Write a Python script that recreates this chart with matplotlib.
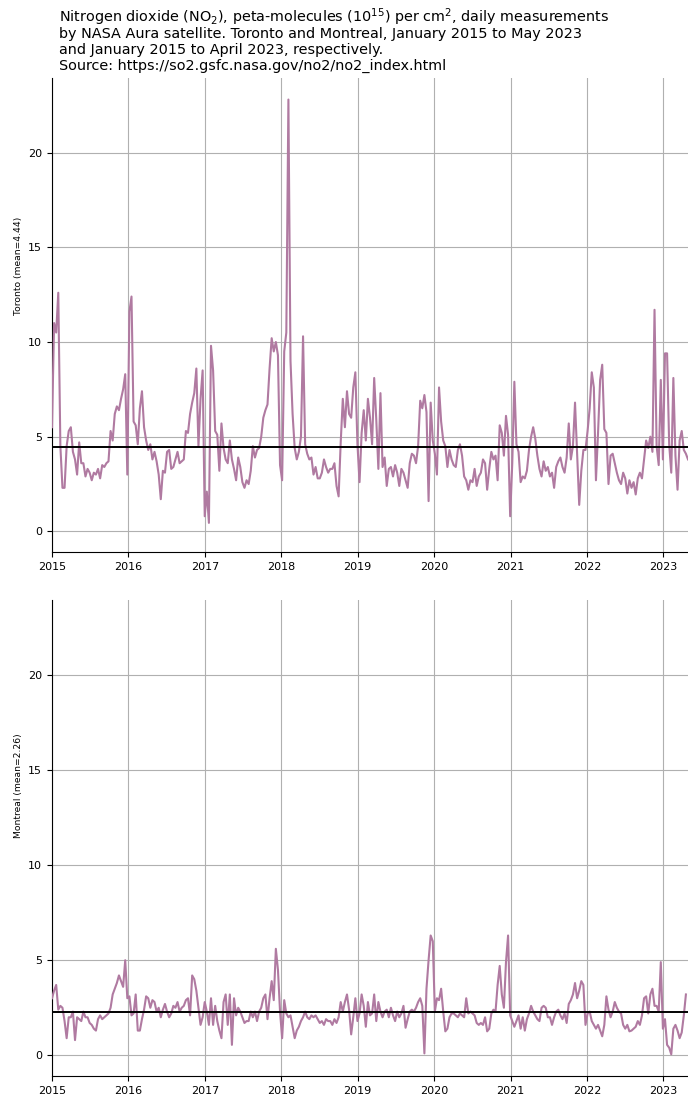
import matplotlib
matplotlib.use("Agg")
import matplotlib.pyplot as plt
import matplotlib.dates as mdates
import pandas as pd

START = "2015-01-01"
STEP = "10D"

toronto_no2 = [
    # 2015
    5.5, 11.0, 10.5, 12.6, 4.5, 2.3, 2.3, 4.5, 5.3, 5.5, 4.2, 3.8, 3.0, 4.7, 3.6, 3.6, 2.9, 3.3, 3.1,
    2.7, 3.1, 3.0, 3.3, 2.8, 3.5, 3.4, 3.6, 3.7, 5.3, 4.8, 6.2, 6.6, 6.4, 7.0, 7.5, 8.3, 3.0,
    # 2016
    11.6, 12.4, 5.8, 5.6, 4.6, 6.5, 7.4, 5.5, 4.8, 4.3, 4.6, 3.8, 4.2, 3.7, 3.0, 1.7, 3.2, 3.1,
    4.2, 4.3, 3.3, 3.4, 3.8, 4.2, 3.6, 3.7, 3.8, 5.3, 5.2, 6.2, 6.8, 7.3, 8.6, 4.5, 7.0, 8.5,
    # 2017
    0.8, 2.1, 0.45, 9.8, 8.5, 5.3, 5.1, 3.2, 5.7, 4.4, 3.8, 3.6, 4.8, 3.8, 3.3, 2.7, 3.9, 3.4, 2.6,
    2.3, 2.7, 2.5, 3.2, 4.5, 3.9, 4.3, 4.4, 5.0, 6.0, 6.4, 6.7, 8.6, 10.2, 9.5, 10.0, 9.3, 3.5,
    # 2018
    2.7, 9.5, 10.5, 22.8, 9.0, 6.2, 4.4, 3.8, 4.2, 5.0, 10.3, 4.6, 4.1, 3.8, 3.9, 3.0, 3.4, 2.8,
    2.8, 3.1, 3.8, 3.4, 3.1, 3.3, 3.3, 3.6, 2.4, 1.85, 4.7, 7.0, 5.5, 7.4, 6.2, 6.0, 7.6, 8.4,
    # 2019
    4.6, 2.6, 5.2, 6.4, 4.8, 7.0, 6.0, 4.6, 8.1, 5.9, 3.3, 7.3, 3.4, 3.9, 2.4, 3.3, 3.4, 2.9, 3.5,
    3.1, 2.4, 3.3, 3.1, 2.7, 2.3, 3.6, 4.1, 4.0, 3.6, 4.5, 6.9, 6.5, 7.2, 6.3, 1.6, 6.8, 4.8,
    # 2020
    4.1, 3.0, 7.6, 5.8, 4.8, 4.5, 3.4, 4.3, 3.8, 3.5, 3.4, 4.3, 4.6, 4.0, 2.9, 2.7, 2.2, 2.7,
    2.6, 3.3, 2.4, 2.9, 3.1, 3.8, 3.6, 2.2, 3.3, 4.2, 3.8, 4.0, 2.7, 5.6, 5.2, 4.0, 6.1, 5.1,
    # 2021
    0.8, 3.6, 7.9, 4.6, 4.2, 2.6, 2.9, 2.8, 3.2, 4.3, 5.0, 5.5, 4.9, 4.0, 3.3, 2.9, 3.7, 3.2, 3.4,
    2.9, 3.1, 2.3, 3.4, 3.7, 3.9, 3.4, 3.1, 3.9, 5.7, 3.8, 4.5, 6.8, 4.1, 1.4, 3.2, 4.3, 4.3,
    # 2022 - 2023
    5.3, 6.5, 8.4, 7.6, 2.7, 5.2, 8.0, 8.8, 5.4, 5.2, 2.5, 4.0, 4.1, 3.6, 3.1, 2.7, 2.5, 3.1,
    2.8, 2.0, 2.7, 2.3, 2.6, 1.95, 2.8, 3.1, 2.8, 3.8, 4.8, 4.4, 5.0, 4.2, 11.7, 4.5, 3.5, 8.0,
    3.8, 9.4, 9.4, 4.6, 3.1, 8.1, 4.0, 2.2, 4.8, 5.3, 4.3, 4.1, 3.8,
]

montreal_no2 = [
    # 2015
    3.0, 3.4, 3.7, 2.4, 2.6, 2.5, 1.8, 0.9, 2.0, 2.0, 2.3, 0.8, 2.0, 1.9, 1.8, 2.3, 2.0, 2.0, 1.7,
    1.6, 1.4, 1.3, 1.9, 2.1, 1.9, 2.0, 2.1, 2.2, 2.5, 3.2, 3.5, 3.8, 4.2, 3.9, 3.6, 5.0, 3.0,
    # 2016
    3.1, 2.1, 2.2, 3.2, 1.3, 1.3, 1.9, 2.4, 3.1, 3.0, 2.5, 2.9, 2.8, 2.3, 2.5, 2.0, 2.4, 2.7,
    2.3, 2.0, 2.2, 2.6, 2.5, 2.8, 2.3, 2.5, 2.6, 2.9, 3.0, 2.1, 4.2, 4.0, 3.4, 2.5, 1.6, 2.0,
    # 2017
    2.8, 2.3, 1.6, 3.0, 1.6, 2.6, 1.8, 1.3, 0.9, 2.8, 3.2, 1.6, 3.2, 0.55, 3.0, 2.1, 2.5, 2.3, 2.0,
    1.7, 1.8, 1.8, 2.3, 2.0, 2.3, 1.8, 2.3, 2.5, 3.0, 3.2, 1.9, 3.0, 3.9, 2.9, 5.6, 4.5, 2.3,
    # 2018
    0.9, 2.9, 2.2, 2.0, 2.1, 1.5, 0.9, 1.3, 1.5, 1.8, 2.0, 2.3, 2.0, 1.9, 2.1, 2.0, 2.1, 1.9,
    1.7, 1.8, 1.6, 1.9, 1.8, 1.8, 1.6, 1.9, 1.7, 2.0, 2.8, 2.3, 2.8, 3.2, 2.4, 1.1, 2.0, 3.0,
    # 2019
    1.8, 2.2, 3.2, 2.6, 1.5, 2.8, 2.1, 2.2, 3.2, 1.8, 2.8, 2.3, 2.0, 2.3, 2.4, 2.0, 2.5, 2.1, 1.8,
    2.3, 2.0, 2.2, 2.6, 1.45, 1.9, 2.3, 2.4, 2.3, 2.5, 2.8, 3.0, 2.6, 0.1, 3.5, 5.0, 6.3, 6.0,
    # 2020
    2.3, 3.0, 2.9, 3.5, 2.3, 1.26, 1.4, 2.0, 2.2, 2.2, 2.1, 2.0, 2.2, 2.1, 2.0, 3.0, 2.2, 2.3,
    2.2, 2.1, 1.7, 1.6, 1.7, 1.6, 2.0, 1.26, 1.4, 2.2, 2.4, 2.3, 3.7, 4.7, 3.2, 2.5, 4.9, 6.3,
    # 2021
    2.1, 1.8, 1.5, 1.8, 2.1, 1.4, 2.0, 1.3, 1.9, 2.2, 2.6, 2.3, 2.1, 1.9, 1.8, 2.5, 2.6, 2.5, 2.0,
    2.0, 1.6, 2.0, 2.3, 2.4, 2.1, 1.9, 2.2, 1.7, 2.7, 2.9, 3.2, 3.8, 3.0, 3.4, 3.9, 3.7, 1.6,
    # 2022 - 2023
    2.2, 2.3, 1.8, 1.6, 1.4, 1.6, 1.3, 1.0, 1.6, 3.1, 2.4, 2.0, 2.3, 2.8, 2.5, 2.3, 2.2, 1.6,
    1.4, 1.6, 1.26, 1.3, 1.4, 1.5, 1.8, 1.6, 2.1, 3.0, 3.1, 2.2, 3.2, 3.5, 2.6, 2.6, 2.3, 4.9,
    1.4, 1.9, 0.55, 0.4, 0.05, 1.4, 1.6, 1.3, 0.9, 1.2, 2.1, 3.2,
]

cities = ["Toronto", "Montreal"]
means = [4.44, 2.26]

title_lines = [
    "Nitrogen dioxide (NO$_2$), peta-molecules (10$^{15}$) per cm$^2$, daily measurements",
    "by NASA Aura satellite. Toronto and Montreal, January 2015 to May 2023",
    "and January 2015 to April 2023, respectively.",
    "Source: https://so2.gsfc.nasa.gov/no2/no2_index.html",
]

# ---- figure ----
LINE_COLOR = "#b07aa1"
W, H = 688, 1099
fig = plt.figure(figsize=(W / 100, H / 100), dpi=100)

def px_axes(l, t, r, b):
    return fig.add_axes([l / W, 1 - b / H, (r - l) / W, (b - t) / H])

ax1 = px_axes(52, 78, 688, 552)
ax2 = px_axes(52, 600, 688, 1076)
axes = [ax1, ax2]
series = [toronto_no2, montreal_no2]

all_dates = []
for ax, city, vals, m in zip(axes, cities, series, means):
    dates = pd.date_range(START, periods=len(vals), freq=STEP)
    all_dates.append(dates)
    ax.plot(dates, vals, color=LINE_COLOR, lw=1.5, zorder=3)
    ax.axhline(m, color="black", lw=1.4, zorder=4)
    ax.set_ylabel(f"{city} (mean={m:.2f})", fontsize=6.6, ha="left")
    ax.grid(True, color="#b0b0b0", lw=0.8, zorder=0)
    ax.set_axisbelow(True)
    for s in ("top", "right"):
        ax.spines[s].set_visible(False)
    ax.xaxis.set_major_locator(mdates.YearLocator())
    ax.xaxis.set_major_formatter(mdates.DateFormatter("%Y"))
    ax.tick_params(labelsize=8)
    ax.set_yticks([0, 5, 10, 15, 20])

xmin = min(d[0] for d in all_dates)
xmax = max(d[-1] for d in all_dates)
ymin = min(min(v) for v in series)
ymax = max(max(v) for v in series)
pad = 0.05 * (ymax - ymin)
for ax in axes:
    ax.set_xlim(xmin, xmax)
    ax.set_ylim(ymin - pad, ymax + pad)

for k, line in enumerate(title_lines):
    fig.text(59 / W, 1 - (22 + 16 * k) / H, line, ha="left", va="baseline", fontsize=10.4)

fig.savefig("out.png", dpi=100)
